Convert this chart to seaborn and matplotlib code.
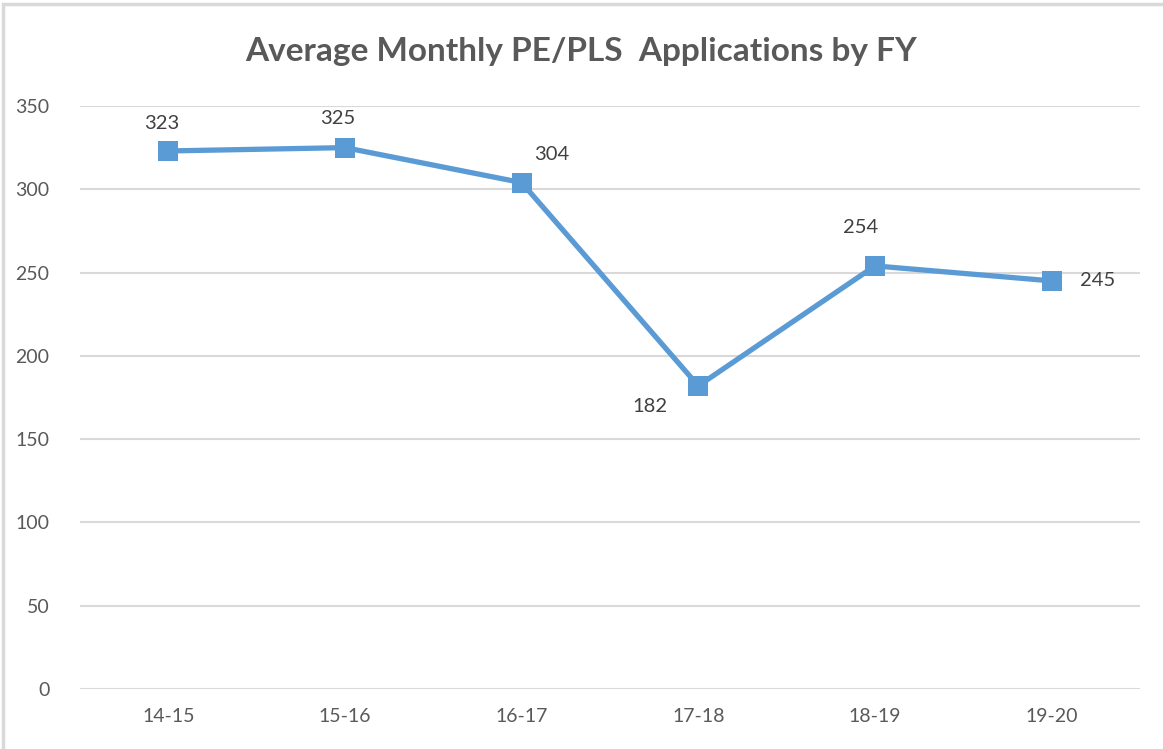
import numpy as np
import pandas as pd
import matplotlib.pyplot as plt
import seaborn as sns
from matplotlib.patches import Rectangle

years = ["14-15", "15-16", "16-17", "17-18", "18-19", "19-20"]
apps = [323, 325, 304, 182, 254, 245]
# label offsets in points (dx, dy)
label_off = [(-5, 20), (-5, 21), (22, 20), (-35, -15), (-10, 28), (33, 0)]

sns.set_theme(style="white")
plt.rcParams['font.family'] = ['Lato', 'DejaVu Sans']

fig = plt.figure(figsize=(11.63, 7.49), dpi=100)
ax = fig.add_axes([0.0688, 0.0801, 0.9114, 0.7784])

df = pd.DataFrame({"FY": years, "Apps": apps})
sns.lineplot(data=df, x="FY", y="Apps", ax=ax, color="#5B9BD5", linewidth=3.8,
             marker="s", markersize=14, markeredgewidth=0, sort=False)

ax.set_xlim(-0.5, len(years) - 0.5)
ax.set_ylim(0, 350)
ax.set_yticks(range(0, 351, 50))
ax.yaxis.grid(True, color="#D9D9D9", linewidth=1.5)
for s in ax.spines.values():
    s.set_visible(False)
ax.tick_params(axis="both", length=0, labelsize=14, colors="#595959")
ax.tick_params(axis="x", pad=14)
ax.tick_params(axis="y", pad=22)
ax.set_xlabel("")
ax.set_ylabel("")

for i, v in enumerate(apps):
    dx, dy = label_off[i]
    ax.annotate(str(v), (i, v), xytext=(dx, dy), textcoords="offset points",
                ha="center", va="center", fontsize=14.5, color="#404040")

fig.text(0.5, 0.931, "Average Monthly PE/PLS  Applications by FY", ha="center",
         va="center", fontsize=24, fontweight="bold", color="#595959")

fig.patches.append(Rectangle((0.003, -0.01), 1.2, 1.004, transform=fig.transFigure,
                             fill=False, edgecolor="#D9D9D9", linewidth=2.5))

fig.savefig("out.png", dpi=100)
